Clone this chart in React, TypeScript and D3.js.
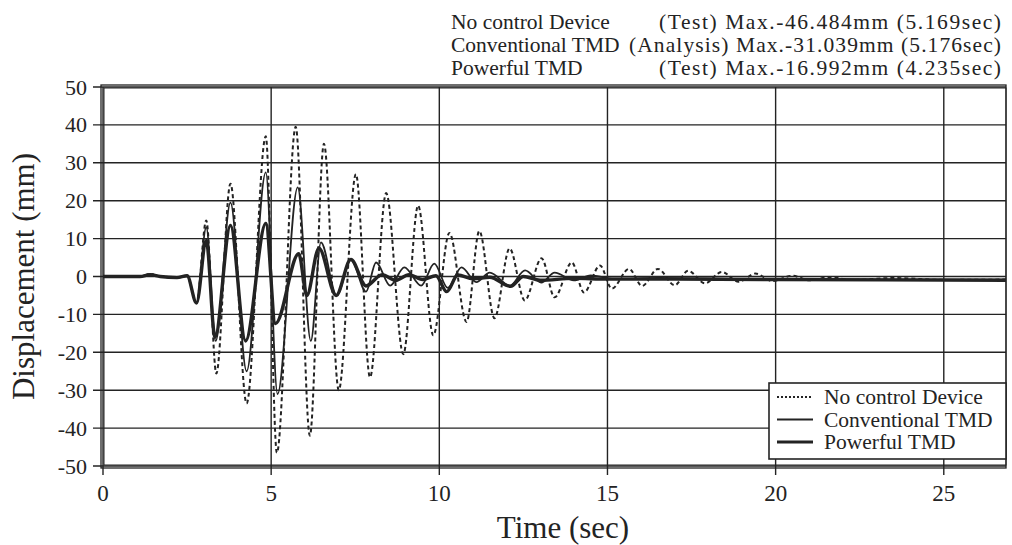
import { useEffect, useRef } from 'react';
import * as d3 from 'd3';

// extrema: [time (sec), displacement (mm)]
const noControl: [number, number][] = [
  [0, 0], [1.1, 0], [1.4, 0.6], [1.7, 0], [2.2, -0.3], [2.5, 0.2], [2.78, -7],
  [3.07, 14.8], [3.37, -25.6], [3.79, 24.5], [4.27, -33.5], [4.84, 37], [5.17, -46.5],
  [5.73, 39.5], [6.15, -42], [6.57, 35], [7.01, -30], [7.52, 27], [7.94, -26.6],
  [8.42, 22], [8.93, -20.5], [9.37, 18.7], [9.82, -15.5], [10.3, 11.5], [10.81, -12],
  [11.19, 12], [11.64, -11], [12.09, 7.4], [12.54, -6.3], [13.04, 4.8], [13.43, -5.5],
  [13.94, 3.7], [14.3, -4.2], [14.78, 2.9], [15.13, -3.2], [15.64, 2], [16.03, -2.5],
  [16.5, 2], [17.0, -2.3], [17.4, 1.5], [17.9, -1.8], [18.4, 1.2], [18.9, -1.4],
  [19.4, 0.8], [19.9, -1.2], [20.5, 0.2], [21.0, -1], [21.6, -0.2], [22.3, -0.9],
  [23.5, -0.4], [25.0, -0.9], [26.85, -0.8]
];

const conventional: [number, number][] = [
  [0, 0], [1.1, 0], [1.4, 0.6], [1.7, 0], [2.2, -0.3], [2.5, 0.2], [2.78, -7],
  [3.07, 13], [3.35, -17], [3.79, 19.5], [4.27, -25], [4.84, 27.5], [5.19, -31],
  [5.79, 23.5], [6.18, -17], [6.48, 9], [6.95, -5], [7.37, 4.5], [7.82, -4],
  [8.12, 3.7], [8.54, -2.4], [8.96, 2.4], [9.46, -2.4], [9.85, 3.4], [10.25, -3],
  [10.66, 2.4], [11.1, -1.5], [11.5, 1], [12.1, -2.4], [12.55, 1.6], [13.03, -1.6],
  [13.43, 1], [14.0, -1], [14.5, 0.3], [15.2, -0.6], [16.5, -0.4], [20, -0.7], [26.85, -0.8]
];

const powerful: [number, number][] = [
  [0, 0], [1.1, 0], [1.4, 0.5], [1.7, 0], [2.2, -0.3], [2.5, 0.2], [2.78, -7],
  [3.07, 9.5], [3.33, -16], [3.79, 13.5], [4.24, -17], [4.84, 14], [5.13, -12.4],
  [5.82, 6], [6.06, -5], [6.42, 7.5], [6.93, -5], [7.37, 4.5], [7.82, -2.5],
  [8.3, 0.5], [8.7, -1], [9.1, 0.5], [9.5, -0.8], [9.9, 0.2], [10.22, -4],
  [10.55, 0.4], [11.0, -0.6], [11.5, -0.2], [12.12, -2.6], [12.5, 0], [13.0, -1],
  [14.0, -0.5], [15.0, -0.7], [17.0, -0.7], [20.0, -0.8], [26.85, -1]
];

const xTicks = [0, 5, 10, 15, 20, 25];
const yTicks = [50, 40, 30, 20, 10, 0, -10, -20, -30, -40, -50];

const headerLeft = ['No control Device', 'Conventional TMD', 'Powerful TMD'];
const headerRight = [
  '(Test) Max.-46.484mm (5.169sec)',
  '(Analysis) Max.-31.039mm (5.176sec)',
  '(Test) Max.-16.992mm (4.235sec)'
];
const legendLabels = ['No control Device', 'Conventional TMD', 'Powerful TMD'];

const W = 1012;
const H = 545;
const plot = { left: 103, right: 1006, top: 87, bottom: 466 };
const ink = '#232323';
const font = '"Liberation Serif", "Times New Roman", serif';

function DisplacementChart() {
  const svgRef = useRef<SVGSVGElement>(null);

  useEffect(() => {
    const svg = d3.select(svgRef.current);
    svg.selectAll('*').remove();

    const x = d3.scaleLinear().domain([0, 26.85]).range([plot.left, plot.right]);
    const y = d3.scaleLinear().domain([-50, 50]).range([plot.bottom, plot.top]);

    svg.append('rect').attr('width', W).attr('height', H).attr('fill', '#fff');

    // grid
    svg.append('g').selectAll('line')
      .data(yTicks)
      .join('line')
        .attr('x1', plot.left - 10).attr('x2', plot.right)
        .attr('y1', d => y(d)).attr('y2', d => y(d))
        .attr('stroke', ink).attr('stroke-width', 1.4);

    svg.append('g').selectAll('line')
      .data(xTicks)
      .join('line')
        .attr('x1', d => x(d)).attr('x2', d => x(d))
        .attr('y1', plot.top).attr('y2', plot.bottom + 9)
        .attr('stroke', ink).attr('stroke-width', 1.4);

    // double frame
    svg.append('rect')
      .attr('x', plot.left - 2).attr('y', plot.top - 2)
      .attr('width', plot.right - plot.left + 2).attr('height', plot.bottom - plot.top + 4)
      .attr('fill', 'none').attr('stroke', ink).attr('stroke-width', 1.3);
    svg.append('rect')
      .attr('x', plot.left + 1).attr('y', plot.top + 1)
      .attr('width', plot.right - plot.left - 1).attr('height', plot.bottom - plot.top - 2)
      .attr('fill', 'none').attr('stroke', ink).attr('stroke-width', 1);

    // tick labels
    svg.append('g').selectAll('text')
      .data(yTicks)
      .join('text')
        .attr('x', 87).attr('y', d => y(d) + 7.5)
        .attr('text-anchor', 'end')
        .attr('font-family', font).attr('font-size', 22).attr('fill', ink)
        .text(d => d);

    svg.append('g').selectAll('text')
      .data(xTicks)
      .join('text')
        .attr('x', d => x(d)).attr('y', 501)
        .attr('text-anchor', 'middle')
        .attr('font-family', font).attr('font-size', 23).attr('fill', ink)
        .text(d => d);

    // axis titles
    svg.append('text')
      .attr('transform', `translate(34, ${(plot.top + plot.bottom) / 2}) rotate(-90)`)
      .attr('text-anchor', 'middle')
      .attr('font-family', font).attr('font-size', 31).attr('fill', ink)
      .text('Displacement (mm)');

    svg.append('text')
      .attr('x', 563).attr('y', 538)
      .attr('text-anchor', 'middle')
      .attr('font-family', font).attr('font-size', 31).attr('fill', ink)
      .text('Time (sec)');

    // series
    const line = d3.line<[number, number]>()
      .x(d => x(d[0]))
      .y(d => y(d[1]))
      .curve(d3.curveMonotoneX);

    const series = svg.append('g');
    series.append('path').datum(noControl)
      .attr('d', line).attr('fill', 'none')
      .attr('stroke', ink).attr('stroke-width', 2).attr('stroke-dasharray', '4,3');
    series.append('path').datum(conventional)
      .attr('d', line).attr('fill', 'none')
      .attr('stroke', ink).attr('stroke-width', 1.8);
    series.append('path').datum(powerful)
      .attr('d', line).attr('fill', 'none')
      .attr('stroke', ink).attr('stroke-width', 3.4);

    // header: right-hand part stretched to the same width as in the source
    const rightWidths = [342, 372, 342];
    const header = svg.append('g')
      .attr('font-family', font).attr('font-size', 21.5).attr('fill', ink);
    headerLeft.forEach((t, i) => {
      header.append('text').attr('x', 451).attr('y', 29 + i * 23).text(t);
      header.append('text').attr('x', 1001 - rightWidths[i]).attr('y', 29 + i * 23)
        .attr('textLength', rightWidths[i]).attr('lengthAdjust', 'spacing')
        .text(headerRight[i]);
    });

    // legend
    const legend = svg.append('g');
    legend.append('rect')
      .attr('x', 769).attr('y', 383).attr('width', 237).attr('height', 76)
      .attr('fill', '#fff').attr('stroke', ink).attr('stroke-width', 1.6);
    const styles = [
      { w: 2, dash: '2,2' },
      { w: 1.8, dash: null },
      { w: 3, dash: null }
    ];
    legendLabels.forEach((t, i) => {
      const ly = 397 + i * 22.5;
      legend.append('line')
        .attr('x1', 777).attr('x2', 813).attr('y1', ly).attr('y2', ly)
        .attr('stroke', ink).attr('stroke-width', styles[i].w)
        .attr('stroke-dasharray', styles[i].dash);
      legend.append('text')
        .attr('x', 824).attr('y', ly + 7)
        .attr('font-family', font).attr('font-size', 21.5).attr('fill', ink)
        .text(t);
    });
  }, []);

  return <svg ref={svgRef} width={W} height={H} style={{ position: 'absolute', left: 0, top: 0 }} />;
}

export default function App() {
  return <DisplacementChart />;
}
